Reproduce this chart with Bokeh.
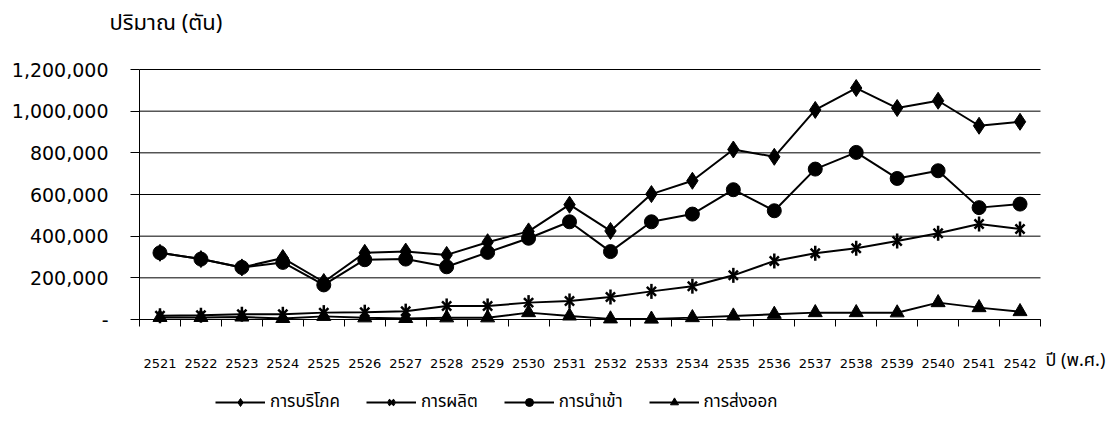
import math
from bokeh.plotting import figure
from bokeh.models import Range1d, FixedTicker, Legend, LegendItem, NumeralTickFormatter, Label
from bokeh.embed import file_html
from bokeh.resources import INLINE

years = [2521, 2522, 2523, 2524, 2525, 2526, 2527, 2528, 2529, 2530, 2531,
         2532, 2533, 2534, 2535, 2536, 2537, 2538, 2539, 2540, 2541, 2542]
consumption = [320000, 290000, 250000, 295000, 180000, 320000, 326000, 310000, 371000, 423000, 551000,
               425000, 602000, 666000, 816000, 781000, 1006000, 1111000, 1015000, 1050000, 930000, 949000]
production = [18000, 20000, 25000, 25000, 33000, 35000, 40000, 65000, 65000, 81000, 89000,
              108000, 135000, 160000, 212000, 281000, 318000, 342000, 377000, 414000, 458000, 434000]
imports = [320000, 290000, 250000, 274000, 166000, 287000, 290000, 253000, 322000, 390000, 469000,
           326000, 469000, 506000, 623000, 522000, 722000, 802000, 677000, 714000, 537000, 554000]
exports = [10000, 10000, 12000, 5000, 15000, 8000, 5000, 8000, 8000, 33000, 17000,
           3000, 2000, 9000, 17000, 25000, 33000, 33000, 32000, 81000, 57000, 38000]
names = ["การบริโภค", "การผลิต", "การนำเข้า", "การส่งออก"]
y_ticks = [0, 200000, 400000, 600000, 800000, 1000000, 1200000]
y_title = "ปริมาณ (ตัน)"
x_title = "ปี (พ.ศ.)"

THAI = "Noto Sans Thai"
NUM = "DejaVu Sans"

n = len(years)
xs = list(range(1, n + 1))

# layout (pixels): the frame covers the whole canvas so that titles and the
# legend can live inside it; both axes are drawn at fixed locations.
W, H = 1120, 432
axis_x = 139          # pixel column of the value axis
zero_y = 319          # pixel row of the category axis
px_per_cat = 901 / n
units_per_px = 1200000 / 250
x_start = 0.5 - axis_x / px_per_cat
x_end = 0.5 + (W - axis_x) / px_per_cat
y_start = -(H - zero_y) * units_per_px
y_end = zero_y * units_per_px

p = figure(width=W, height=H, output_backend="svg", toolbar_location=None,
           x_range=Range1d(x_start, x_end), y_range=Range1d(y_start, y_end),
           min_border_left=0, min_border_top=0, min_border_right=0, min_border_bottom=0)
p.outline_line_color = None
p.background_fill_color = "white"
p.border_fill_color = "white"

# horizontal gridlines limited to the plotting area (between the category edges)
p.xgrid.visible = False
p.ygrid.visible = False
p.segment(x0=[0.5] * len(y_ticks), y0=y_ticks, x1=[n + 0.5] * len(y_ticks), y1=y_ticks,
          line_color="black", line_width=1, level="underlay")

p.yaxis.fixed_location = 0.5
p.yaxis.ticker = FixedTicker(ticks=y_ticks)
p.yaxis.bounds = (0, 1200000)
p.yaxis.formatter = NumeralTickFormatter(format="0,0")
p.yaxis.major_label_overrides = {0: "-"}
p.yaxis.major_tick_out = 9
p.yaxis.major_tick_in = 0
p.yaxis.minor_tick_line_color = None
p.yaxis.axis_line_color = "black"
p.yaxis.major_tick_line_color = "black"
p.yaxis.major_label_text_font = NUM
p.yaxis.major_label_text_font_size = "19px"
p.yaxis.major_label_text_color = "black"
p.yaxis.major_label_standoff = 22

p.xaxis.fixed_location = 0
p.xaxis.bounds = (0.5, n + 0.5)
p.xaxis.ticker = FixedTicker(ticks=xs, minor_ticks=[i + 0.5 for i in range(0, n + 1)])
p.xaxis.major_label_overrides = {x: str(y) for x, y in zip(xs, years)}
p.xaxis.axis_line_color = "black"
p.xaxis.major_tick_line_color = None
p.xaxis.major_tick_out = 0
p.xaxis.major_tick_in = 0
p.xaxis.minor_tick_out = 7
p.xaxis.minor_tick_in = 0
p.xaxis.minor_tick_line_color = "black"
p.xaxis.major_label_text_font = NUM
p.xaxis.major_label_text_font_size = "13px"
p.xaxis.major_label_text_color = "black"
p.xaxis.major_label_standoff = 32

items = []
l1 = p.line(xs, consumption, line_color="black", line_width=2)
m1 = p.scatter(xs, consumption, marker="diamond", size=17,
               fill_color="black", line_color="black")
items.append(LegendItem(label=names[0], renderers=[l1, m1]))
l2 = p.line(xs, production, line_color="black", line_width=2)
m2a = p.scatter(xs, production, marker="x", size=13, line_color="black", line_width=2.5)
m2b = p.scatter(xs, production, marker="dash", angle=math.pi / 2, size=15,
                line_color="black", line_width=2.5)
items.append(LegendItem(label=names[1], renderers=[l2, m2a, m2b]))
l3 = p.line(xs, imports, line_color="black", line_width=2)
m3 = p.scatter(xs, imports, marker="circle", size=14, fill_color="black", line_color="black")
items.append(LegendItem(label=names[2], renderers=[l3, m3]))
l4 = p.line(xs, exports, line_color="black", line_width=2)
m4 = p.scatter(xs, exports, marker="triangle", size=14, fill_color="black", line_color="black")
items.append(LegendItem(label=names[3], renderers=[l4, m4]))

legend = Legend(items=items, orientation="horizontal", location=(215, 17),
                glyph_width=50, glyph_height=20, label_standoff=5, spacing=26,
                padding=0, margin=0, border_line_color=None, background_fill_alpha=0,
                label_text_font=THAI, label_text_font_size="17px", label_text_color="black")
p.add_layout(legend)

p.add_layout(Label(x=109, y=H - 23, x_units="screen", y_units="screen", text=y_title,
                   text_font=THAI, text_font_size="22px", text_baseline="middle",
                   text_color="black"))
p.add_layout(Label(x=1045, y=H - 360, x_units="screen", y_units="screen", text=x_title,
                   text_font=THAI, text_font_size="18px", text_baseline="middle",
                   text_color="black"))

open("out.html", "w").write(file_html(p, INLINE))
